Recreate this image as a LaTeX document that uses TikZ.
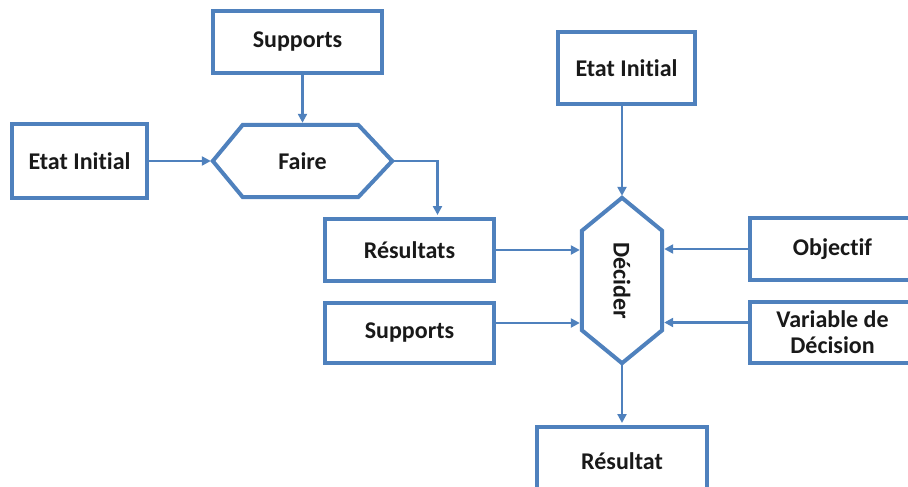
\documentclass[tikz,border=0pt]{standalone}
\usepackage{fontspec}
\setmainfont{Carlito}[Ligatures={NoCommon,NoRare,NoDiscretionary},RawFeature={-liga;-dlig;-clig}]
\usepackage{graphicx}
\usetikzlibrary{arrows.meta}
\definecolor{bl}{HTML}{4F81BD}
\begin{document}
\begin{tikzpicture}[x=1pt,y=-1pt,
  txt/.style={font=\bfseries\fontsize{24}{26}\selectfont, text=black!90, inner sep=0pt, align=center},
  box/.style={txt, draw=bl, line width=4pt, fill=white},
  hexnode/.style={txt, draw=none},
  hexline/.style={draw=bl, line width=4pt, line join=miter},
  arr/.style={draw=bl, line width=2.7pt, -{Triangle[length=9pt,width=9pt]}, shorten >=2pt}
]
\useasboundingbox (0,0) rectangle (908,487);
\clip (0,0) rectangle (908,487);
% left part
\node[box, minimum width=169, minimum height=62] (sup1) at (297.5,42) {Supports};
\node[box, minimum width=135, minimum height=74] (ei1) at (79.5,161) {Etat Initial};
\node[hexnode, minimum width=179, minimum height=72] (faire) at (302.5,161) {Faire};
\node[box, minimum width=169, minimum height=62] (res) at (409.5,250) {Résultats};
\node[box, minimum width=169, minimum height=60] (sup2) at (409.5,333) {Supports};
% right part
\node[box, minimum width=137, minimum height=72] (ei2) at (626.5,68) {Etat Initial};
\node[hexnode, minimum width=80, minimum height=165] (dec) at (622,280.5) {\rotatebox{-90}{Décider}};
\node[box, minimum width=165, minimum height=62] (obj) at (832.5,249) {Objectif};
\node[box, minimum width=165, minimum height=61] (var) at (832.5,332.5) {Variable de\\Décision};
\node[box, minimum width=170, minimum height=68] (rst) at (622,461) {Résultat};
% hexagons
\draw[hexline] (faire.west) -- ([xshift=30]faire.north west) -- ([xshift=-34]faire.north east)
  -- (faire.east) -- ([xshift=-34]faire.south east) -- ([xshift=30]faire.south west) -- cycle;
\draw[hexline] (dec.north) -- ([yshift=-33]dec.north east) -- ([yshift=33]dec.south east)
  -- (dec.south) -- ([yshift=33]dec.south west) -- ([yshift=-33]dec.north west) -- cycle;
% connectors
\draw[arr] (sup1.south -| faire.north) -- (faire.north);
\draw[arr] (ei1.east) -- (faire.west);
\draw[arr] (faire.east) -| ([xshift=28]res.north);
\draw[arr] (ei2.south -| dec.north) -- (dec.north);
\draw[arr] (res.east) -- (res.east -| dec.west);
\draw[arr] ([yshift=10]sup2.east) -- ([yshift=10]sup2.east -| dec.west);
\draw[arr] (obj.west) -- (obj.west -| dec.east);
\draw[arr] ([yshift=10]var.west) -- ([yshift=10]var.west -| dec.east);
\draw[arr] (dec.south) -- (rst.north);
\end{tikzpicture}
\end{document}
